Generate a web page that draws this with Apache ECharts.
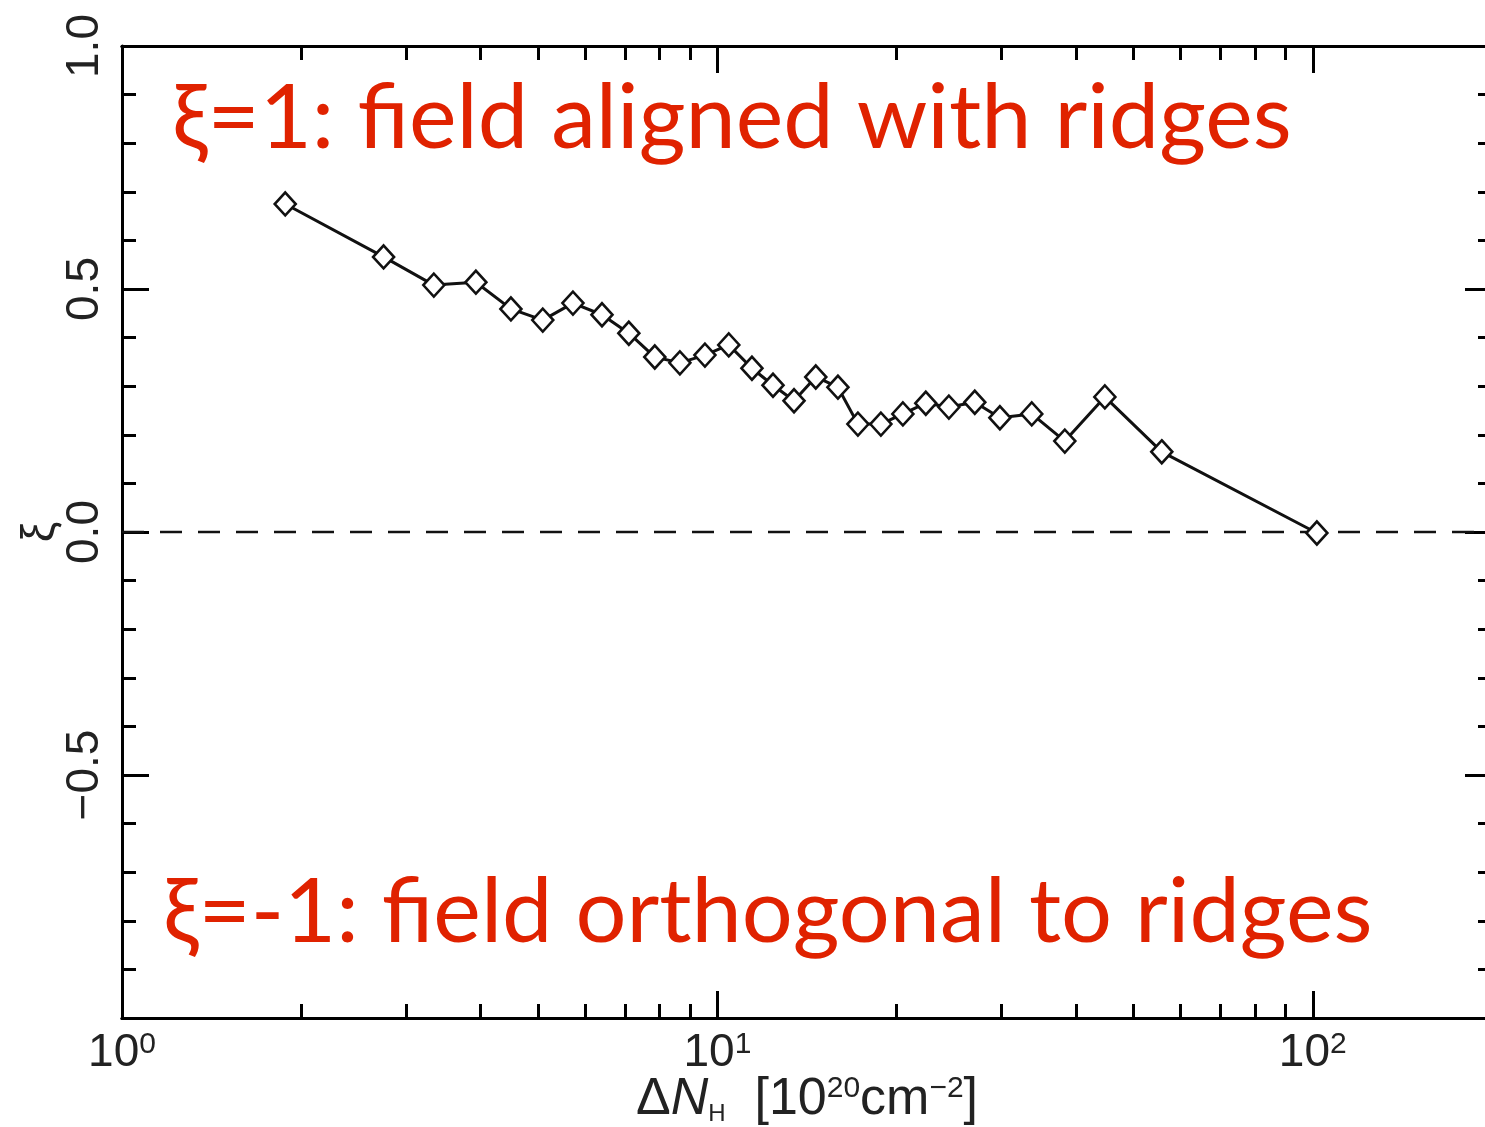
<!DOCTYPE html>
<html>
<head>
<meta charset="utf-8">
<script src="https://cdn.jsdelivr.net/npm/echarts@6/dist/echarts.min.js"></script>
<style>
html,body{margin:0;padding:0;background:#fff;}
#chart{width:1485px;height:1127px;}
</style>
</head>
<body>
<div id="chart"></div>
<script>
// ---- data ----
const xValues = [1.88, 2.75, 3.34, 3.93, 4.50, 5.09, 5.72, 6.40, 7.10, 7.85,
                 8.65, 9.53, 10.45, 11.43, 12.40, 13.45, 14.63, 15.94, 17.22, 18.82,
                 20.49, 22.39, 24.48, 27.06, 29.82, 33.73, 38.33, 44.75, 55.77, 101.6];
const yValues = [0.675, 0.566, 0.508, 0.514, 0.459, 0.436, 0.471, 0.447, 0.409, 0.360,
                 0.348, 0.364, 0.385, 0.337, 0.302, 0.270, 0.319, 0.298, 0.222, 0.222,
                 0.243, 0.265, 0.257, 0.267, 0.235, 0.243, 0.187, 0.278, 0.165, -0.002];
const zeroLineX = [1, 200];
const zeroLineY = [0, 0];
const xMajorTicks = [1, 10, 100];
const xTickExponents = ['0', '1', '2'];
const xMinorTicks = [2, 3, 4, 5, 6, 7, 8, 9, 20, 30, 40, 50, 60, 70, 80, 90];
const yTickValues = [-1, -0.5, 0, 0.5, 1];
const yTickLabels = ['', '\u22120.5', '0.0', '0.5', '1.0'];
const annotationTop = '\u03be=1: field aligned with ridges';
const annotationBottom = '\u03be=-1: field orthogonal to ridges';

const chart = echarts.init(document.getElementById('chart'), null, {renderer: 'canvas'});

const black = '#000';
const labelColor = '#222';
const axisFont = 'Liberation Sans';

function xAxisDef(position, ticks, len, showLabel) {
  return {
    type: 'log', logBase: 10, min: 1, max: 200, position: position,
    axisLine: {show: true, onZero: false, lineStyle: {color: black, width: 3}},
    axisTick: {show: true, inside: true, length: len, customValues: ticks,
               lineStyle: {color: black, width: 3}},
    axisLabel: showLabel ? {
      show: true, customValues: xMajorTicks, margin: 12, color: labelColor,
      formatter: function (v) {
        const i = xMajorTicks.indexOf(Math.round(v));
        return '{b|10}{s|' + (i >= 0 ? xTickExponents[i] : '') + '}';
      },
      rich: {
        b: {fontSize: 46, fontFamily: axisFont, color: labelColor, lineHeight: 46},
        s: {fontSize: 30, fontFamily: axisFont, color: labelColor, verticalAlign: 'top', lineHeight: 28}
      }
    } : {show: false},
    splitLine: {show: false},
    minorTick: {show: false},
    minorSplitLine: {show: false}
  };
}

const xAxes = [
  xAxisDef('bottom', xMajorTicks, 27, true),
  xAxisDef('bottom', xMinorTicks, 14, false),
  xAxisDef('top', xMajorTicks, 27, false),
  xAxisDef('top', xMinorTicks, 14, false)
];
xAxes[0].name = '{d|\u0394}{n|N}{sub|H}{d|  [10}{sup|20}{d|cm}{sup|\u22122}{d|]}';
xAxes[0].nameLocation = 'middle';
xAxes[0].nameGap = 56;
xAxes[0].nameMoveOverlap = false;
xAxes[0].nameTextStyle = {
  color: labelColor,
  rich: {
    d: {fontSize: 52, fontFamily: axisFont, color: labelColor, lineHeight: 52},
    n: {fontSize: 52, fontFamily: axisFont, fontStyle: 'italic', color: labelColor, lineHeight: 52},
    sub: {fontSize: 24, fontFamily: axisFont, color: labelColor, verticalAlign: 'bottom', lineHeight: 36},
    sup: {fontSize: 30, fontFamily: axisFont, color: labelColor, verticalAlign: 'top', lineHeight: 30}
  }
};

function yAxisDef(position, showLabel) {
  return {
    type: 'value', min: -1, max: 1, interval: 0.5, position: position,
    axisLine: {show: position === 'left', onZero: false, lineStyle: {color: black, width: 3}},
    axisTick: {show: true, inside: true, length: 27, lineStyle: {color: black, width: 3}},
    minorTick: {show: true, splitNumber: 5, length: 14, lineStyle: {color: black, width: 3}},
    splitLine: {show: false},
    axisLabel: showLabel ? {
      show: true, rotate: 90, margin: 14, color: labelColor,
      fontSize: 46, fontFamily: axisFont,
      formatter: function (v) {
        const i = yTickValues.findIndex(t => Math.abs(t - v) < 1e-9);
        return i >= 0 ? yTickLabels[i] : '';
      }
    } : {show: false}
  };
}
const yAxes = [yAxisDef('left', true), yAxisDef('right', false)];
yAxes[0].name = '\u03be';
yAxes[0].nameLocation = 'middle';
yAxes[0].nameRotate = 90;
yAxes[0].nameGap = 58;
yAxes[0].nameMoveOverlap = false;
yAxes[0].nameTextStyle = {fontSize: 46, fontFamily: axisFont, color: labelColor};

const option = {
  backgroundColor: '#fff',
  animation: false,
  grid: {left: 122, top: 46, width: 1370, height: 972, containLabel: false, outerBoundsMode: 'none'},
  xAxis: xAxes,
  yAxis: yAxes,
  series: [{
    type: 'line',
    xAxisIndex: 0, yAxisIndex: 0,
    data: zeroLineX.map((x, i) => [x, zeroLineY[i]]),
    symbol: 'none',
    silent: true,
    lineStyle: {color: '#111', width: 2.5, type: [22, 16]},
    z: 2
  }, {
    type: 'line',
    xAxisIndex: 0, yAxisIndex: 0,
    data: xValues.map((x, i) => [x, yValues[i]]),
    symbol: 'diamond',
    symbolSize: [21, 23],
    showAllSymbol: true,
    lineStyle: {color: '#111', width: 3},
    itemStyle: {color: '#fff', borderColor: '#111', borderWidth: 2.6},
    z: 3
  }],
  graphic: [
    {type: 'text', left: 172, top: 74, z: 10,
     style: {text: annotationTop, fill: '#e02200', fontSize: 90, fontFamily: 'Lato'}},
    {type: 'text', left: 163, top: 868, z: 10,
     style: {text: annotationBottom, fill: '#e02200', fontSize: 90, fontFamily: 'Lato'}}
  ]
};
chart.setOption(option);
</script>
</body>
</html>
